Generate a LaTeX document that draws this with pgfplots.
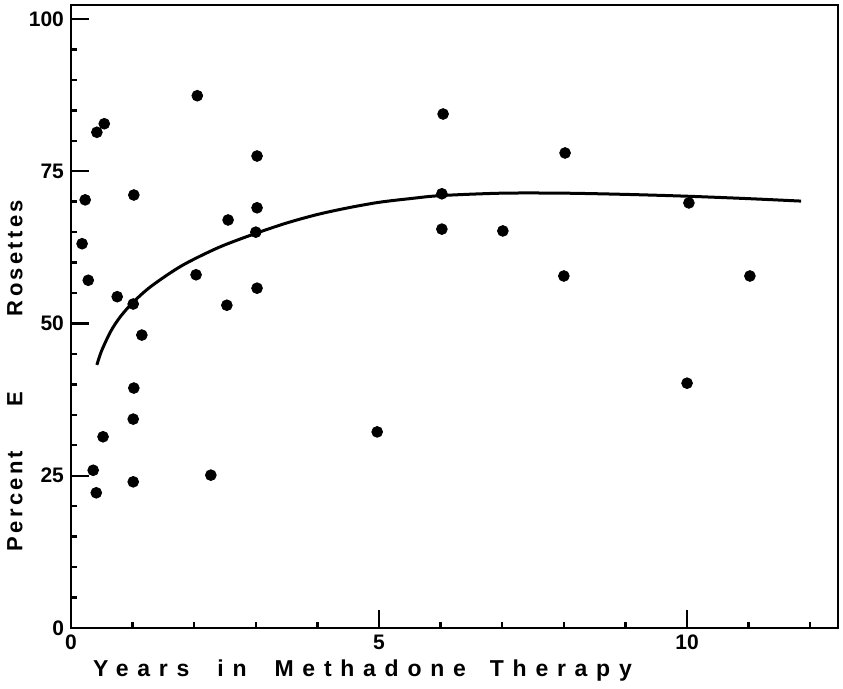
\documentclass[border=0pt]{standalone}
\usepackage{fontspec}
\setmainfont{Liberation Sans}
\newfontfamily\boldsans{Liberation Sans Bold}
\newfontfamily\spaced{Liberation Sans Bold}[LetterSpace=38]
\newfontfamily\spacedy{Liberation Sans Bold}[LetterSpace=15]
\newcommand{\lsize}{\fontsize{11.5}{13}\selectfont}
\usepackage{pgfplots}
\pgfplotsset{compat=1.18}

\begin{document}
\begin{tikzpicture}
\begin{axis}[
  width=383.5pt, height=311.5pt, scale only axis,
  xmin=0, xmax=12.45, ymin=0, ymax=102.3,
  axis line style={line width=1.4pt},
  xtick={0,5,10}, minor xtick={1,2,3,4,6,7,8,9,11,12},
  ytick={0,25,50,75,100}, minor ytick={5,10,15,20,30,35,40,45,55,60,65,70,80,85,90,95},
  tick pos=left, tick align=inside,
  major tick length=9pt, minor tick length=3pt,
  every tick/.style={black, line width=1.2pt},
  tick label style={font=\boldsans\fontsize{10.5}{12}\selectfont},
  /pgf/number format/assume math mode=true,
  xlabel={\spaced\lsize Years\hspace{14pt}in\hspace{14pt}Methadone\hspace{12pt}Therapy},
  ylabel={\spacedy\fontsize{11}{13}\selectfont Percent\hspace{22pt}E\hspace{38pt}Rosettes},
  xlabel style={at={(axis description cs:0.38,-0.069)}, anchor=center},
  ylabel style={at={(axis description cs:-0.073,0.405)}, anchor=center},
]
% patients
\addplot[only marks, mark=*, mark size=2.7pt, black] coordinates {
  (0.18,63.1) (0.23,70.3) (0.28,57.1) (0.36,25.9) (0.41,22.2)
  (0.42,81.4) (0.54,82.8) (0.52,31.4) (0.75,54.4) (1.02,71.1)
  (1.01,53.2) (1.15,48.1) (1.02,39.4) (1.01,34.3) (1.01,24.0)
  (2.05,87.4) (2.03,58.0) (2.27,25.1) (2.55,67.0) (2.53,53.0)
  (3.02,77.5) (3.02,69.0) (3.00,65.0) (3.02,55.8) (4.97,32.2)
  (6.04,84.4) (6.02,71.3) (6.02,65.5) (7.01,65.2) (8.02,78.0)
  (8.00,57.8) (10.03,69.8) (10.00,40.2) (11.02,57.8)
};
% fitted curve
\addplot[black, line width=1.5pt, smooth] coordinates {
  (0.42,43.2) (0.5,45.6) (0.65,48.8) (0.8,51.1) (1.0,53.4) (1.3,56.1)
  (1.8,59.5) (2.4,62.5) (3.0,64.8) (3.5,66.5) (4.0,67.9) (4.5,69.0)
  (5.0,69.9) (5.5,70.5) (6.0,71.0) (7.0,71.4) (8.0,71.4) (9.0,71.2)
  (10.0,70.9) (11.0,70.5) (11.85,70.1)
};
\end{axis}
\path (current axis.south west) ++(-35.5pt,-29.5pt) (current axis.north east) ++(2.5pt,2.5pt);
\end{tikzpicture}
\end{document}
